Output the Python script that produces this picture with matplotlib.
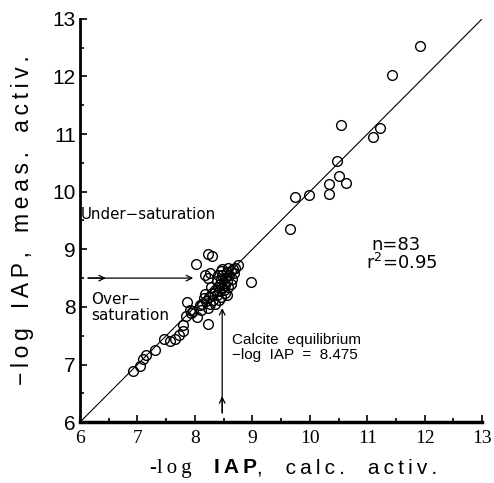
import matplotlib
matplotlib.use("Agg")
import matplotlib.pyplot as plt
import numpy as np

# -log IAP, calculated (x) vs measured (y)
calc_activ = [
    11.92, 11.43, 10.54, 11.23, 11.10, 10.47, 10.50, 10.63, 10.33, 10.33, 9.99, 9.75, 9.65,
    8.97,
    6.93, 7.05, 7.10, 7.14, 7.30, 7.46, 7.57, 7.66, 7.72, 7.79, 7.80, 7.84, 7.86, 7.92, 7.94,
    7.97, 8.03, 8.08, 8.23, 8.02, 8.22, 8.29,
    8.12, 8.15, 8.18, 8.20, 8.22, 8.25, 8.27, 8.30, 8.32, 8.35, 8.38, 8.40, 8.42, 8.44, 8.45,
    8.46, 8.47, 8.48, 8.50, 8.50, 8.52, 8.53, 8.55, 8.56, 8.58, 8.60, 8.62, 8.64, 8.66, 8.70,
    8.75, 8.45, 8.40, 8.18, 8.22, 8.27, 8.38, 8.48, 8.58, 8.35, 8.42, 8.28, 8.52, 8.62, 8.10,
    8.55, 8.68,
]
meas_activ = [
    12.52, 12.02, 11.15, 11.11, 10.95, 10.54, 10.28, 10.15, 10.13, 9.96, 9.94, 9.91, 9.35,
    8.44,
    6.88, 6.98, 7.10, 7.16, 7.26, 7.44, 7.41, 7.44, 7.52, 7.58, 7.68, 7.84, 8.08, 7.95, 7.90,
    7.93, 7.82, 8.03, 7.71, 8.75, 8.92, 8.88,
    8.05, 8.15, 8.22, 8.10, 7.98, 8.18, 8.05, 8.25, 8.12, 8.30, 8.20, 8.35, 8.28, 8.40, 8.18,
    8.48, 8.33, 8.55, 8.42, 8.30, 8.50, 8.38, 8.60, 8.45, 8.35, 8.55, 8.62, 8.48, 8.66, 8.68,
    8.73, 8.62, 8.55, 8.55, 8.50, 8.58, 8.45, 8.65, 8.68, 8.05, 8.12, 8.35, 8.25, 8.40, 7.95,
    8.20, 8.58,
]
fit_line = [6, 13]
calcite_eq = 8.475
ticks = np.arange(6, 14)

SANS = ["Liberation Sans", "DejaVu Sans"]
SERIF = ["Liberation Serif", "DejaVu Serif"]


def spaced(s, gap="\u2009"):
    # the original typesetting has very loose letter spacing
    return gap.join(s)


fig = plt.figure(figsize=(4.94, 4.83), dpi=100)
ax = fig.add_axes([0.162, 0.126, 0.814, 0.835])

ax.plot(fit_line, fit_line, color="black", linewidth=0.8)
ax.plot(calc_activ, meas_activ, linestyle="none", marker="o", markersize=7,
        markerfacecolor="none", markeredgecolor="black", markeredgewidth=1.0)

# arrows
arrow = dict(arrowstyle="->", color="black", linewidth=0.9, shrinkA=0, shrinkB=0)
ax.annotate("", xy=(7.97, 8.5), xytext=(6.14, 8.5), arrowprops=arrow)
ax.annotate("", xy=(6.45, 8.5), xytext=(6.14, 8.5), arrowprops=arrow)
ax.annotate("", xy=(calcite_eq, 7.98), xytext=(calcite_eq, 6.16), arrowprops=arrow)
ax.annotate("", xy=(calcite_eq, 6.45), xytext=(calcite_eq, 6.16), arrowprops=arrow)

ax.text(6.02, 9.6, "Under\u2212saturation", fontsize=10.8, va="center", ha="left")
ax.text(6.2, 7.99, "Over\u2212\nsaturation", fontsize=11, va="center", ha="left",
        linespacing=1.05)
ax.text(8.65, 7.30, "Calcite  equilibrium\n\u2212log  IAP  =  8.475",
        family=SANS, fontsize=11, va="center", ha="left", linespacing=1.1)
ax.text(11.5, 9.08, "n=83", fontsize=13, va="center", ha="center")
ax.text(11.6, 8.77, "r$^2$=0.95", fontsize=13, va="center", ha="center")

ax.set_xlim(6, 13)
ax.set_ylim(6, 13)
ax.set_xticks(ticks)
ax.set_yticks(ticks)
ax.set_xticks(ticks[:-1] + 0.5, minor=True)
ax.set_yticks(ticks[:-1] + 0.5, minor=True)
ax.tick_params(which="both", direction="in", width=1.2)
ax.tick_params(which="major", length=5)
ax.tick_params(which="minor", length=3)
ax.tick_params(axis="y", pad=3)
ax.tick_params(axis="x", pad=6)
for lab in ax.get_xticklabels():
    lab.set_family(SERIF)
    lab.set_fontsize(14)
for lab in ax.get_yticklabels():
    lab.set_family(SANS)
    lab.set_fontsize(15)

ax.spines["top"].set_visible(False)
ax.spines["right"].set_visible(False)
ax.spines["left"].set_linewidth(2)
ax.spines["bottom"].set_linewidth(2.5)

ylabel = "   ".join(spaced(w) for w in ["\u2212log", "IAP,", "meas.", "activ."])
ax.set_ylabel(ylabel, family=SANS, fontsize=16.5, labelpad=13)

# x label in mixed fonts, as in the original: pieces placed one after another
renderer = fig.canvas.get_renderer()
pieces = [
    ("-" + spaced("log"), dict(family=SERIF, fontsize=15)),
    (spaced("IAP"), dict(family=SANS, fontsize=15, fontweight="bold")),
    ("," + "    " + spaced("calc.") + "    " + spaced("activ."), dict(family=SANS, fontsize=15)),
]
x_px = 150
gaps = [22, 0, 0]
for (txt, kw), gap in zip(pieces, gaps):
    t = fig.text(x_px / fig.bbox.width, 0.02, txt, ha="left", va="baseline", **kw)
    x_px += t.get_window_extent(renderer).width + gap

fig.savefig("out.png", dpi=100)
